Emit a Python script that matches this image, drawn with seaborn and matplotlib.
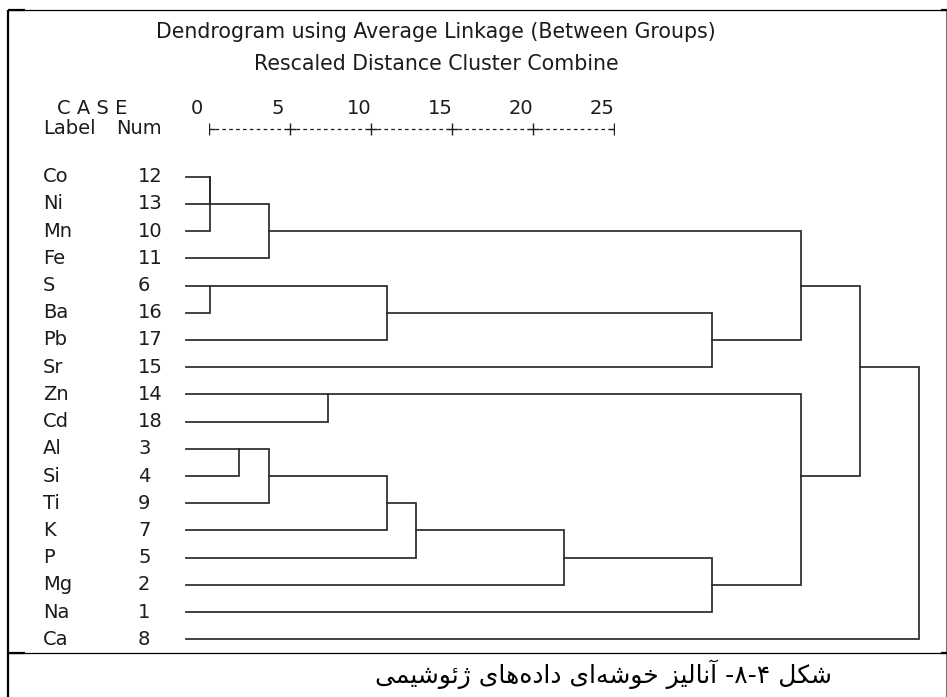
import pandas as pd
import matplotlib
matplotlib.use("Agg")
import matplotlib.pyplot as plt
from matplotlib.transforms import blended_transform_factory, offset_copy
import seaborn as sns

# ---- data -------------------------------------------------------------
labels = ["Co", "Ni", "Mn", "Fe", "S", "Ba", "Pb", "Sr", "Zn", "Cd",
          "Al", "Si", "Ti", "K", "P", "Mg", "Na", "Ca"]
case_nums = [12, 13, 10, 11, 6, 16, 17, 15, 14, 18, 3, 4, 9, 7, 5, 2, 1, 8]

# agglomeration schedule (clusters named by their first member)
join_a = ["Co", "Co", "Co", "S", "S", "S", "Co", "Zn", "Al", "Al", "Al",
          "Al", "Al", "Al", "Zn", "Co", "Co"]
join_b = ["Ni", "Mn", "Fe", "Ba", "Pb", "Sr", "S", "Cd", "Si", "Ti", "K",
          "P", "Mg", "Na", "Al", "Zn", "Ca"]
join_dist = [1, 1, 3, 1, 7, 18, 21, 5, 2, 3, 7, 8, 13, 18, 21, 23, 25]

scale_ticks = [0, 5, 10, 15, 20, 25]

title = "Dendrogram using Average Linkage (Between Groups)"
subtitle = "Rescaled Distance Cluster Combine"
caption = "شکل ۴-۸- آنالیز خوشه‌ای داده‌های ژئوشیمی"

# ---- style ------------------------------------------------------------
sns.set_theme(style="white")
plt.rcParams["font.family"] = ["DejaVu Sans"]
TXT = "#1c1c1c"
LINE = "#2a2a2a"
FS = 14
FS_TITLE = 14.8

W, H = 947, 697
fig = plt.figure(figsize=(W / 100, H / 100), dpi=100)
fig.patch.set_facecolor("white")


def fx(px):
    return px / W


def fy(py):
    return 1 - py / H


# overlay axes in pixel units (y downwards) for frame and header text
pax = fig.add_axes([0, 0, 1, 1])
pax.set_xlim(0, W)
pax.set_ylim(H, 0)
pax.axis("off")

# frame
pax.plot([8, 8], [10, H], color="black", lw=1.6, solid_capstyle="butt")
pax.plot([8, W], [10, 10], color="black", lw=0.9)
pax.plot([8, W], [653, 653], color="black", lw=0.9)
pax.plot([945.5, 945.5], [10, H], color="#555555", lw=0.6)
for yy in (10, 653):
    pax.plot([8, 25], [yy, yy], color="black", lw=1.6, solid_capstyle="butt")
    pax.plot([941, W], [yy, yy], color="black", lw=1.6, solid_capstyle="butt")

pax.text(436, 31.5, title, ha="center", va="center", fontsize=FS_TITLE, color=TXT)
pax.text(436, 63.5, subtitle, ha="center", va="center", fontsize=FS_TITLE, color=TXT)
pax.text(57, 109, "C A S E", ha="left", va="center", fontsize=FS, color=TXT)
pax.text(43, 128, "Label", ha="left", va="center", fontsize=FS, color=TXT)
pax.text(116, 128, "Num", ha="left", va="center", fontsize=FS, color=TXT)

# ---- header scale (0..25) ---------------------------------------------
hax = fig.add_axes([fx(209), 0, fx(614) - fx(209), 1])
hax.set_xlim(0, 25)
hax.set_ylim(H, 0)
hax.axis("off")
num_tr = offset_copy(hax.transData, fig=fig, x=-12, y=0, units="dots")
for t in scale_ticks:
    hax.text(t, 109, str(t), transform=num_tr, ha="center", va="center",
             fontsize=FS, color=TXT)
for t0, t1 in zip(scale_ticks[:-1], scale_ticks[1:]):
    hax.plot([t0 + 0.35, t1 - 0.35], [128.5, 128.5], color=TXT, lw=0.9,
             dashes=(2.9, 2.6))
hax.plot(scale_ticks, [128.5] * len(scale_ticks), ls="none", marker="+",
         ms=8, mew=1.0, color=TXT)

# ---- dendrogram ---------------------------------------------------------
LEAF_START = 0.2
anchor = {lab: i for i, lab in enumerate(labels)}
reach = {lab: LEAF_START for lab in labels}
rows = []
for k, (a, b, d) in enumerate(zip(join_a, join_b, join_dist)):
    ra, rb = anchor[a], anchor[b]
    for px_, py_ in ((reach[a], ra), (d, ra), (d, rb), (reach[b], rb)):
        rows.append({"link": k, "dist": px_, "row": py_})
    anchor[a] = (ra + rb) // 2
    reach[a] = d
links = pd.DataFrame(rows)

top_px, bot_px = 176.7, 639.3
ax = fig.add_axes([fx(180), fy(bot_px), fx(919) - fx(180), (bot_px - top_px) / H])
sns.lineplot(data=links, x="dist", y="row", units="link", estimator=None,
             sort=False, color=LINE, lw=1.25, legend=False, ax=ax,
             solid_joinstyle="miter", solid_capstyle="projecting", clip_on=False)
ax.set_xlim(0, 25)
ax.set_ylim(len(labels) - 1, 0)
ax.axis("off")

lab_tr = blended_transform_factory(fig.transFigure, ax.transData)
for i, (lab, num) in enumerate(zip(labels, case_nums)):
    ax.text(fx(43), i, lab, transform=lab_tr, ha="left", va="center",
            fontsize=FS, color=TXT)
    ax.text(fx(138), i, str(num), transform=lab_tr, ha="left", va="center",
            fontsize=FS, color=TXT)

# ---- Persian caption: contextual letter forms, laid out right to left ----
FORMS = {
    "ش": ("\uFEB5", "\uFEB6", "\uFEB7", "\uFEB8"),
    "ک": ("\uFB8E", "\uFB8F", "\uFB90", "\uFB91"),
    "ل": ("\uFEDD", "\uFEDE", "\uFEDF", "\uFEE0"),
    "آ": ("\uFE81", "\uFE82", None, None),
    "ا": ("\uFE8D", "\uFE8E", None, None),
    "ن": ("\uFEE5", "\uFEE6", "\uFEE7", "\uFEE8"),
    "ی": ("\uFBFC", "\uFBFD", "\uFBFE", "\uFBFF"),
    "ز": ("\uFEAF", "\uFEB0", None, None),
    "خ": ("\uFEA5", "\uFEA6", "\uFEA7", "\uFEA8"),
    "و": ("\uFEED", "\uFEEE", None, None),
    "ه": ("\uFEE9", "\uFEEA", "\uFEEB", "\uFEEC"),
    "ئ": ("\uFE89", "\uFE8A", "\uFE8B", "\uFE8C"),
    "د": ("\uFEA9", "\uFEAA", None, None),
    "ژ": ("\uFB8A", "\uFB8B", None, None),
    "م": ("\uFEE1", "\uFEE2", "\uFEE3", "\uFEE4"),
}


def visual_rtl(s):
    out = []
    for i, c in enumerate(s):
        if c == "\u200c":
            continue
        if c not in FORMS:
            out.append(c)
            continue
        prev = s[i - 1] if i > 0 else ""
        nxt = s[i + 1] if i + 1 < len(s) else ""
        j_prev = prev in FORMS and FORMS[prev][2] is not None
        j_next = FORMS[c][2] is not None and nxt in FORMS
        iso, fin, ini, med = FORMS[c]
        if j_prev and j_next:
            out.append(med)
        elif j_prev:
            out.append(fin)
        elif j_next:
            out.append(ini)
        else:
            out.append(iso)
    return "".join(reversed(out))


pax.text(603, 674, visual_rtl(caption), ha="center", va="center",
         fontsize=18, color="black", family=["DejaVu Sans"])

fig.savefig("out.png", dpi=100)
